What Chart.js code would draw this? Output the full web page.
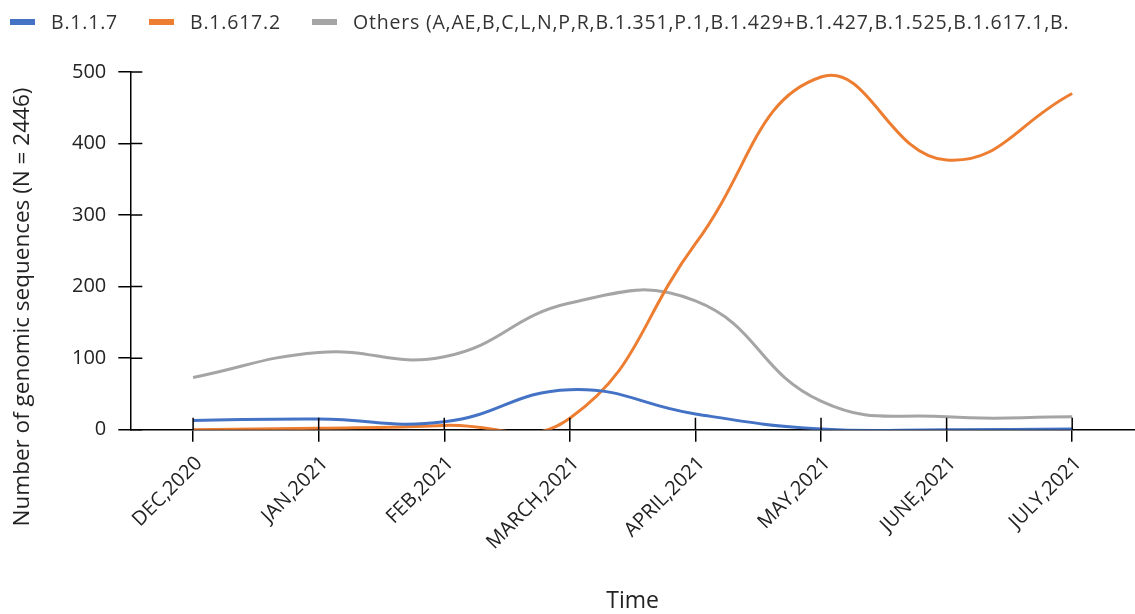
<!DOCTYPE html>
<html>
<head>
<meta charset="utf-8">
<script src="https://cdn.jsdelivr.net/npm/chart.js@4.4.1/dist/chart.umd.min.js"></script>
<style>
  body { margin: 0; background: #fff; }
  #wrap { position: relative; width: 1135px; height: 614px; }
  #legend {
    position: absolute; top: 8px; left: 10px;
    display: flex; align-items: center; gap: 31px;
    font-family: "Open Sans", sans-serif; font-size: 19.5px; letter-spacing: 0.8px; color: #333;
    white-space: nowrap;
  }
  #legend .item { display: flex; align-items: center; }
  #legend .box { width: 25px; height: 6px; margin-right: 16px; }
</style>
</head>
<body>
<div id="wrap">
  <canvas id="chart"></canvas>
  <div id="legend"></div>
</div>
<script>
// data
const months = ["DEC,2020", "JAN,2021", "FEB,2021", "MARCH,2021", "APRIL,2021", "MAY,2021", "JUNE,2021", "JULY,2021"];
const b117 = [13, 15, 11, 56, 22, 1, 0, 1];
const b16172 = [0, 2, 6, 16, 260, 493, 377, 470];
const others = [73, 108, 102, 177, 180, 40, 18, 18];
const seriesNames = ["B.1.1.7", "B.1.617.2", "Others (A,AE,B,C,L,N,P,R,B.1.351,P.1,B.1.429+B.1.427,B.1.525,B.1.617.1,B."];
const colors = ["#4472C4", "#ED7D31", "#A5A5A5"];
const yTitle = "Number of genomic sequences (N = 2446)";

// legend
const legend = document.getElementById("legend");
seriesNames.forEach((name, i) => {
  const item = document.createElement("div");
  item.className = "item";
  item.innerHTML = `<span class="box" style="background:${colors[i]}"></span><span>${name}</span>`;
  legend.appendChild(item);
});

// tick marks that cross the axis lines + y title centred on the page height
const axisExtras = {
  id: "axisExtras",
  afterDraw(chart) {
    const ctx = chart.ctx;
    const x = chart.scales.x, y = chart.scales.y;
    ctx.save();
    ctx.strokeStyle = "#000";
    ctx.lineWidth = 1.5;
    ctx.beginPath();
    x.ticks.forEach((t, i) => {
      const px = x.getPixelForTick(i);
      ctx.moveTo(px, x.top);
      ctx.lineTo(px, x.top - 12);
    });
    y.ticks.forEach((t, i) => {
      const py = y.getPixelForTick(i);
      ctx.moveTo(y.right, py);
      ctx.lineTo(y.right + 12, py);
    });
    ctx.stroke();

    ctx.translate(23, chart.height / 2);
    ctx.rotate(-Math.PI / 2);
    ctx.font = "22.5px 'Open Sans'";
    ctx.fillStyle = "#222";
    ctx.textAlign = "center";
    ctx.textBaseline = "middle";
    ctx.fillText(yTitle, 0, 0);
    ctx.restore();
  }
};

const tickFont = { family: "Open Sans", size: 20 };

new Chart(document.getElementById("chart"), {
  type: "line",
  data: {
    labels: months,
    datasets: [
      { label: seriesNames[0], data: b117, borderColor: colors[0] },
      { label: seriesNames[1], data: b16172, borderColor: colors[1] },
      { label: seriesNames[2], data: others, borderColor: colors[2] }
    ]
  },
  options: {
    responsive: true,
    maintainAspectRatio: false,
    animation: false,
    elements: {
      line: { borderWidth: 3, tension: 0.45, fill: false, capBezierPoints: false },
      point: { radius: 0 }
    },
    layout: { padding: { top: 72, right: 0, left: 60, bottom: -5 } },
    plugins: {
      legend: { display: false },
      tooltip: { enabled: false }
    },
    scales: {
      x: {
        offset: true,
        grid: { offset: false, drawOnChartArea: false, tickLength: 12, color: "#000", lineWidth: 1.5 },
        border: { color: "#000", width: 1.5 },
        ticks: { font: tickFont, color: "#222", minRotation: 45, maxRotation: 45, padding: 10, labelOffset: 6 },
        title: { display: true, text: "Time", font: { family: "Open Sans", size: 23 }, color: "#222", padding: { top: 23 } }
      },
      y: {
        min: 0,
        max: 500,
        ticks: { stepSize: 100, font: tickFont, color: "#222", padding: 12 },
        grid: { drawOnChartArea: false, tickLength: 12, color: "#000", lineWidth: 1.5 },
        border: { color: "#000", width: 1.5 }
      }
    }
  },
  plugins: [axisExtras]
});
</script>
</body>
</html>
